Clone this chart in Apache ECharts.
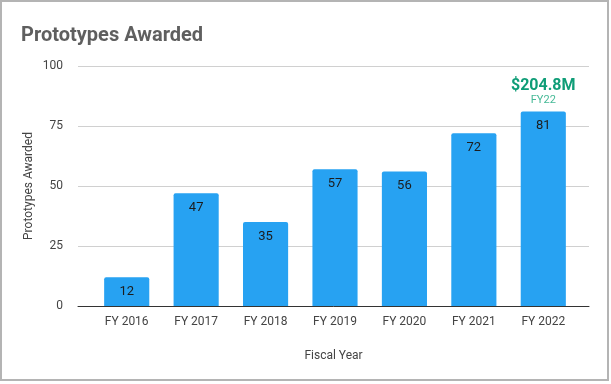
<!DOCTYPE html>
<html>
<head>
<meta charset="utf-8">
<script src="https://cdn.jsdelivr.net/npm/echarts@6/dist/echarts.min.js"></script>
<style>
html,body{margin:0;padding:0;background:#fff;}
#c{width:611px;height:384px;}
</style>
</head>
<body>
<div id="c"></div>
<script>
const categories = ['FY 2016','FY 2017','FY 2018','FY 2019','FY 2020','FY 2021','FY 2022'];
const prototypes = [12, 47, 35, 57, 56, 72, 81];
const yTicks = [0, 25, 50, 75, 100];
const annotationValue = '$204.8M';
const annotationYear = 'FY22';
const annotationCategory = 'FY 2022';

const chart = echarts.init(document.getElementById('c'), null, {renderer:'canvas'});
const font = 'Roboto, "Noto Sans", sans-serif';
const lastIdx = categories.indexOf(annotationCategory);

chart.setOption({
  animation: false,
  backgroundColor: '#fff',
  textStyle: {fontFamily: font},
  title: {
    text: 'Prototypes Awarded',
    left: 16, top: 21,
    textStyle: {fontFamily: font, fontSize: 20, fontWeight: 'bold', color: '#5f5f5f'}
  },
  graphic: [{
    type: 'rect', silent: true, z: 100,
    shape: {x: 1, y: 1, width: 607, height: 379},
    style: {fill: 'none', stroke: '#b4b4b4', lineWidth: 2}
  }],
  grid: [
    {left: 78, right: 22, top: 66, bottom: 78},
    {left: 92, right: 33, top: 66, bottom: 78}
  ],
  xAxis: [
    {
      gridIndex: 0, type: 'value', min: 0, max: 1,
      name: 'Fiscal Year', nameLocation: 'middle', nameGap: 44, nameMoveOverlap: false,
      nameTextStyle: {fontFamily: font, fontSize: 12, color: '#444'},
      axisLine: {show: true, lineStyle: {color: '#333', width: 1}},
      axisTick: {show: false}, axisLabel: {show: false}, splitLine: {show: false}
    },
    {
      gridIndex: 1, type: 'category', data: categories,
      axisLine: {show: false}, axisTick: {show: false},
      axisLabel: {fontFamily: font, fontSize: 12, color: '#444', margin: 10}
    }
  ],
  yAxis: [
    {
      gridIndex: 0, type: 'value', min: yTicks[0], max: yTicks[yTicks.length-1], interval: 25,
      name: 'Prototypes Awarded', nameLocation: 'middle', nameGap: 43, nameMoveOverlap: false,
      nameTextStyle: {fontFamily: font, fontSize: 12, color: '#444'},
      axisLine: {show: false}, axisTick: {show: false},
      axisLabel: {fontFamily: font, fontSize: 12, color: '#444', margin: 15},
      splitLine: {lineStyle: {color: '#d0d0d0', width: 1}}
    },
    {
      gridIndex: 1, type: 'value', min: yTicks[0], max: yTicks[yTicks.length-1], interval: 25,
      axisLine: {show: false}, axisTick: {show: false}, axisLabel: {show: false}, splitLine: {show: false}
    }
  ],
  series: [{
    type: 'bar', xAxisIndex: 1, yAxisIndex: 1,
    data: prototypes,
    barCategoryGap: '35%',
    z: 3,
    itemStyle: {color: '#27a2f2', borderRadius: [2,2,0,0]},
    label: {show: true, position: 'insideTop', distance: 8, fontFamily: font, fontSize: 13, color: '#1c1c1c'},
    markPoint: {
      symbol: 'circle', symbolSize: 0,
      data: [{coord: [lastIdx, prototypes[lastIdx]]}],
      label: {
        show: true, position: 'top', distance: 5,
        formatter: '{a|' + annotationValue + '}\n{b|' + annotationYear + '}',
        rich: {
          a: {fontFamily: font, fontSize: 16, fontWeight: 'bold', color: '#0f9d77', lineHeight: 16, align: 'center'},
          b: {fontFamily: font, fontSize: 11, color: '#45b996', lineHeight: 13, align: 'center'}
        }
      }
    }
  }]
});
</script>
</body>
</html>
